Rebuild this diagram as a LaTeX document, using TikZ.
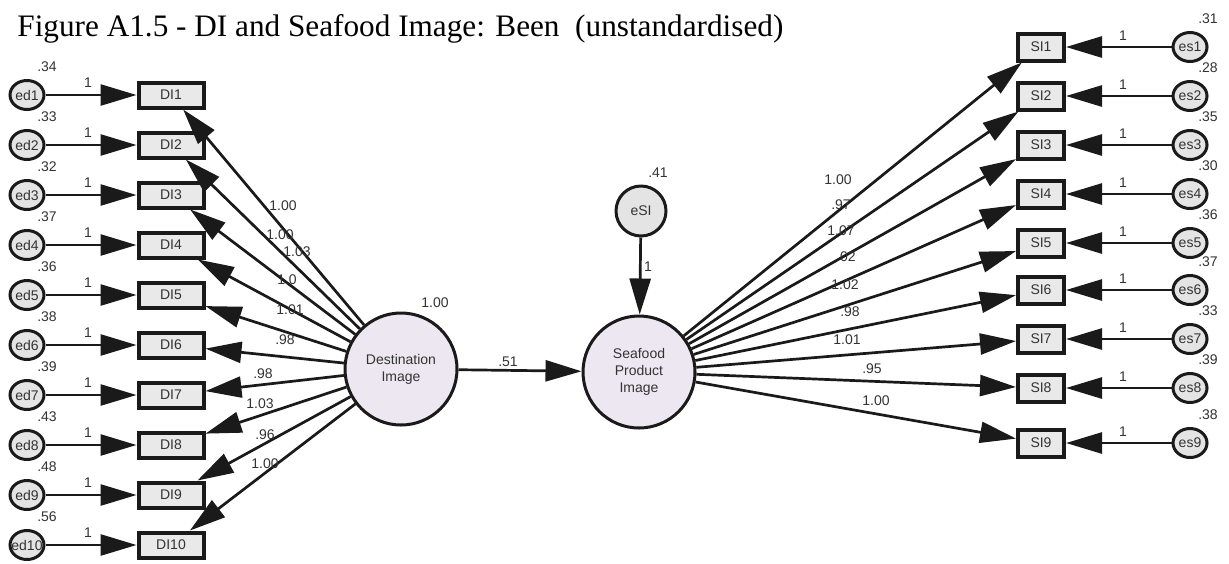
\documentclass[tikz,border=0pt]{standalone}
\usepackage{fontspec}
\newfontfamily\arialf{Liberation Sans}
\newfontfamily\titlef{Liberation Serif}
\usetikzlibrary{arrows.meta,shapes.geometric}
\definecolor{ink}{HTML}{1A1A1A}
\definecolor{txt}{HTML}{333333}
\definecolor{boxfill}{HTML}{E9E9E9}
\definecolor{errfill}{HTML}{E4E4E4}
\definecolor{latfill}{HTML}{ECE7F1}
\tikzset{
  lbl/.style={font=\arialf\fontsize{7}{8}\selectfont, text=txt, inner sep=0pt},
  obsbox/.style={draw=ink, line width=2pt, fill=boxfill, rectangle, inner sep=0pt,
    font=\arialf\fontsize{7}{8}\selectfont, text=txt},
  dibox/.style={obsbox, minimum width=32.5pt, minimum height=12.5pt},
  sibox/.style={obsbox, minimum width=23pt, minimum height=13.5pt},
  errnode/.style={draw=ink, line width=1.5pt, fill=errfill, ellipse, inner sep=0pt,
    minimum width=17pt, minimum height=14.5pt, font=\arialf\fontsize{7}{8}\selectfont, text=txt},
  latent/.style={draw=ink, line width=1.5pt, fill=latfill, circle, inner sep=0pt,
    minimum size=56pt, align=center, font=\arialf\fontsize{7}{8.4}\selectfont, text=txt},
  errlat/.style={draw=ink, line width=1.5pt, fill=errfill, circle, inner sep=0pt,
    minimum size=25pt, font=\arialf\fontsize{7}{8}\selectfont, text=txt},
  arr/.style={draw=ink, line width=1.35pt, -{Triangle[length=18pt, width=10.5pt]}},
}
\begin{document}
\begin{tikzpicture}[x=0.5pt, y=-0.5pt]
% canvas
\fill[white] (0,0) rectangle (1229,563);
\useasboundingbox (0,0) rectangle (1229,563);

% title
\node[anchor=base west, inner sep=0pt] (title) at (17,36)
  {\resizebox{383pt}{!}{\titlef\fontsize{12}{14}\selectfont Figure A1.5 - DI and Seafood Image: Been\ \ (unstandardised)}};

% latent variables
\node[latent] (DI) at (401,369) {Destination\\Image};
\node[latent] (SP) at (639,372) {Seafood\\Product\\Image};
\node[errlat] (eSI) at (641,211) {eSI};

% destination image indicators and their errors (error labels may overrun the ellipse)
\foreach \i in {1,...,10} {
  \pgfmathsetmacro{\yy}{95+50*(\i-1)}
  \node[dibox] (DI\i) at (171,\yy) {DI\i};
  \node[errnode] (ed\i) at (27,\yy) {\makebox[0pt]{ed\i}};
}
\foreach \i/\v in {1/.34,2/.33,3/.32,4/.37,5/.36,6/.38,7/.39,8/.43,9/.48,10/.56} {
  \pgfmathsetmacro{\yy}{95+50*(\i-1)}
  \draw[arr] (ed\i) -- (DI\i);
  \node[lbl] (ved\i) at (47,\yy-28) {\v};
  \node[lbl] (ped\i) at (88,\yy-12) {1};
}

% seafood image indicators and their errors
\foreach \i/\yy in {1/47,2/96,3/145,4/194,5/243,6/290,7/339,8/388,9/443} {
  \node[sibox] (SI\i) at (1041,\yy) {SI\i};
  \node[errnode] (es\i) at (1190,\yy) {\makebox[0pt]{es\i}};
}
\foreach \i/\yy/\v in {1/47/.31,2/96/.28,3/145/.35,4/194/.30,5/243/.36,6/290/.37,7/339/.33,8/388/.39,9/443/.38} {
  \draw[arr] (es\i) -- (SI\i);
  \node[lbl] (ves\i) at (1208,\yy-28) {\v};
  \node[lbl] (pes\i) at (1123,\yy-11) {1};
}

% loadings of Destination Image
\foreach \i in {1,...,10} { \draw[arr] (DI) -- (DI\i); }
\node[lbl] (l1) at (283,206) {1.00};
\node[lbl] (l2) at (280,235) {1.00};
\node[lbl] (l3) at (297,252) {1.03};
\node[lbl] (l4) at (287,280) {1.0};
\node[lbl] (l5) at (290,310) {1.01};
\node[lbl] (l6) at (285,340) {.98};
\node[lbl] (l7) at (263,374) {.98};
\node[lbl] (l8) at (260,404) {1.03};
\node[lbl] (l9) at (265,435) {.96};
\node[lbl] (l10) at (265,464) {1.00};

% loadings of Seafood Product Image
\foreach \i in {1,...,9} { \draw[arr] (SP) -- (SI\i); }
\node[lbl] (s1) at (838,180) {1.00};
\node[lbl] (s2) at (841,205) {.97};
\node[lbl] (s3) at (841,231) {1.07};
\node[lbl] (s4) at (846,257) {.02};
\node[lbl] (s5) at (845,285) {1.02};
\node[lbl] (s6) at (850,312) {.98};
\node[lbl] (s7) at (847,340) {1.01};
\node[lbl] (s8) at (872,369) {.95};
\node[lbl] (s9) at (876,401) {1.00};

% structural path and disturbance
\draw[arr] (DI) -- (SP);
\draw[arr] (eSI) -- (SP);
\node[lbl] (vDI) at (435,303) {1.00};
\node[lbl] (pDS) at (508,362) {.51};
\node[lbl] (veSI) at (658,173) {.41};
\node[lbl] (peSI) at (648,267) {1};
\end{tikzpicture}
\end{document}
